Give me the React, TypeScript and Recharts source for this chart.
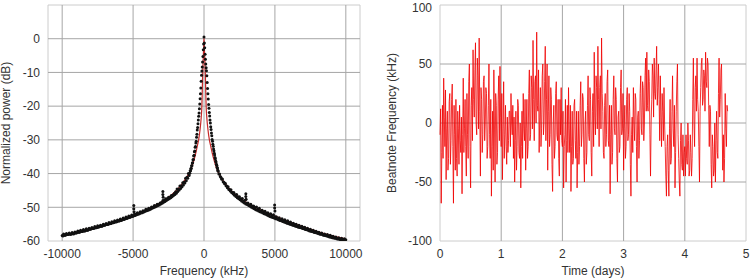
import React from 'react';
import {
  ComposedChart,
  LineChart,
  Line,
  Scatter,
  XAxis,
  YAxis,
  ReferenceLine,
  ReferenceArea,
} from 'recharts';

const FONT = '"Liberation Sans", Arial, Helvetica, sans-serif';
const TEXT = '#333333';
const GRID = '#a6a6a6';
const FRAME = '#cccccc';

// ---------- Left chart: spectrum ----------
const specFreqTicks = [-10000, -5000, 0, 5000, 10000];
const specDbTicks = [10, 0, -10, -20, -30, -40, -50, -60];

// measured dots, left tail: -10000 .. -1100 kHz, 100 kHz spacing
const leftTailStart = -10000;
const tailStep = 100;
const leftTailDb = [
  -58.4, -57.9, -58.3, -57.8, -58.1, -57.6, -58.0, -57.5, -57.9, -57.3,
  -57.6, -57.0, -57.4, -56.8, -57.2, -56.6, -57.0, -56.4, -56.8, -56.2,
  -56.5, -56.0, -56.3, -55.7, -56.1, -55.5, -55.8, -55.3, -55.6, -55.0,
  -55.3, -54.8, -55.1, -54.5, -54.8, -54.3, -54.6, -54.0, -54.3, -53.8,
  -54.1, -53.5, -53.8, -53.2, -53.5, -52.9, -53.2, -52.6, -52.9, -52.3,
  -52.6, -52.0, -52.1, -51.6, -51.9, -51.3, -51.5, -51.0, -51.2, -50.6,
  -50.8, -50.3, -50.4, -49.9, -50.0, -49.5, -49.6, -49.1, -49.2, -48.7,
  -48.6, -48.0, -47.9, -47.5, -47.5, -47.0, -47.0, -46.5, -46.4, -45.9,
  -45.4, -44.6, -44.6, -43.7, -43.6, -42.7, -42.5, -41.4, -41.1, -40.0,
];
// measured dots between them: -9950 .. -1050 kHz
const leftMidStart = -9950;
const leftMidDb = [
  -58.5, -58.3, -58.2, -58.1, -58.0, -58.0, -57.9, -57.8, -57.7, -57.6,
  -57.5, -57.4, -57.3, -57.2, -57.1, -57.0, -56.9, -56.8, -56.7, -56.5,
  -56.4, -56.3, -56.2, -56.1, -56.0, -55.9, -55.7, -55.6, -55.5, -55.3,
  -55.2, -55.1, -55.0, -54.9, -54.8, -54.6, -54.5, -54.4, -54.3, -54.1,
  -54.0, -53.9, -53.7, -53.6, -53.4, -53.3, -53.1, -53.0, -52.8, -52.7,
  -52.5, -52.4, -52.2, -52.1, -51.9, -51.7, -51.6, -51.4, -51.2, -51.0,
  -50.9, -50.7, -50.5, -50.3, -50.1, -49.9, -49.7, -49.5, -49.3, -49.0,
  -48.8, -48.5, -48.3, -48.0, -47.7, -47.5, -47.2, -46.9, -46.5, -46.2,
  -45.8, -45.3, -44.9, -44.4, -43.9, -43.4, -42.8, -42.1, -41.4, -40.6,
];

// measured dots, peak: -1000 .. 1000 kHz, 25 kHz spacing
const peakStart = -1000;
const peakStep = 25;
const peakDb = [
  -39.9, -39.2, -39.2, -38.5, -38.5, -37.7, -37.7, -36.9, -36.8, -35.9,
  -35.8, -34.8, -34.6, -33.5, -33.3, -32.2, -32.0, -30.9, -30.4, -29.2,
  -28.3, -27.1, -26.3, -25.2, -24.1, -23.0, -22.0, -20.8, -19.4, -17.8,
  -16.3, -14.6, -12.6, -10.8, -9.6, -8.4, -6.9, -5.3, -3.3, -1.6,
  0.5,
  -1.3, -2.7, -4.6, -6.1, -7.5, -8.6, -9.5, -11.0, -13.0, -14.8,
  -16.3, -17.9, -19.5, -20.6, -21.9, -22.9, -24.1, -25.0, -26.1, -26.9,
  -28.0, -28.8, -29.9, -30.4, -31.3, -31.9, -32.7, -33.2, -34.0, -34.5,
  -35.2, -35.6, -36.3, -36.6, -37.2, -37.5, -38.1, -38.4, -39.0, -39.3,
];

// measured dots, right tail: 1100 .. 10000 kHz, 100 kHz spacing
const rightTailStart = 1100;
const rightTailDb = [
  -40.1, -41.2, -41.6, -42.6, -42.9, -43.7, -43.9, -44.7, -44.8, -45.6,
  -45.6, -46.3, -46.2, -46.9, -46.9, -47.5, -47.4, -48.1, -47.9, -48.8,
  -48.7, -49.3, -49.1, -49.7, -49.6, -50.1, -49.9, -50.6, -50.3, -51.0,
  -50.9, -51.4, -51.2, -51.8, -51.6, -52.2, -51.9, -52.5, -52.2, -52.8,
  -52.8, -53.4, -53.1, -53.7, -53.4, -54.0, -53.7, -54.3, -54.0, -54.6,
  -54.4, -54.9, -54.7, -55.2, -55.0, -55.6, -55.3, -55.9, -55.6, -56.1,
  -55.9, -56.5, -56.2, -56.8, -56.5, -57.1, -56.8, -57.4, -57.1, -57.5,
  -57.4, -57.9, -57.6, -58.2, -57.9, -58.4, -58.1, -58.7, -58.3, -58.7,
  -58.6, -59.0, -58.8, -59.3, -59.0, -59.5, -59.2, -59.7, -59.3, -59.6,
];
// measured dots between them: 1050 .. 9950 kHz
const rightMidStart = 1050;
const rightMidDb = [
  -40.1, -40.9, -41.7, -42.4, -43.0, -43.6, -44.2, -44.7, -45.2, -45.6,
  -46.0, -46.4, -46.8, -47.2, -47.5, -47.8, -48.1, -48.4, -48.7, -49.0,
  -49.2, -49.5, -49.7, -50.0, -50.2, -50.4, -50.7, -50.9, -51.1, -51.3,
  -51.5, -51.7, -51.9, -52.1, -52.3, -52.5, -52.7, -52.9, -53.0, -53.2,
  -53.4, -53.5, -53.7, -53.9, -54.0, -54.2, -54.4, -54.5, -54.7, -54.8,
  -55.0, -55.1, -55.3, -55.4, -55.6, -55.7, -55.9, -56.0, -56.1, -56.3,
  -56.4, -56.6, -56.7, -56.8, -57.0, -57.1, -57.2, -57.4, -57.5, -57.6,
  -57.8, -57.9, -58.0, -58.1, -58.3, -58.4, -58.5, -58.6, -58.8, -58.9,
  -59.0, -59.1, -59.2, -59.3, -59.4, -59.5, -59.6, -59.7, -59.8, -59.9,
];

// sidebands (spurs)
const spurFreq = [-4950, -4950, -4930, -2900, -2900, -2880, 2950, 2950, 2970, 4980, 4980, 5000];
const spurDb = [-49.5, -50.4, -51.3, -45.3, -46.2, -47.0, -46.0, -46.8, -47.6, -49.3, -50.2, -51.1];

// fitted curve
const fitFreq = [
  -10000, -9000, -8000, -7000, -6000, -5000, -4000, -3000, -2500, -2000,
  -1500, -1200, -1000, -800, -600, -480, -380, -280, -200, -150,
  -120, -90, -45, -15, 0, 15, 45, 90, 120, 150,
  200, 280, 380, 480, 600, 800, 1000, 1200, 1500, 2000,
  2500, 3000, 4000, 5000, 6000, 7000, 8000, 9000, 10000,
];
const fitDb = [
  -58.2, -57.4, -56.4, -55.2, -54.0, -52.6, -50.7, -48.4, -47.0, -45.2,
  -42.8, -40.9, -39.5, -37.3, -34.3, -32.0, -30.0, -27.0, -23.5, -20.0,
  -15.0, -10.0, -5.0, -1.5, 0, -1.5, -5.0, -10.0, -15.0, -20.0,
  -23.5, -27.0, -30.0, -32.0, -34.3, -37.3, -39.6, -41.1, -43.0, -45.4,
  -47.2, -48.6, -50.8, -52.6, -54.3, -55.8, -57.2, -58.4, -59.4,
];

// ---------- Right chart: beatnote vs time ----------
const beatStartDay = 0;
const beatStepDay = 0.01;
const beatKHz = [
  -10, 12, -68, -25, 15, -30, 38, 5, -20, 28, -48, -5, 10, -40, -30, 18, 25, -35, -15, 20,
  33, -20, -68, 15, -10, -40, 20, -30, -45, 10, -5, -35, 15, -15, -25, 5, -60, -10, 38, -25,
  -5, 20, -20, -45, 25, -10, -30, 35, 50, -20, -55, 15, 30, -15, 62, 20, 5, 45, 68, 0,
  -10, 55, 40, -5, 72, 10, -45, 30, 20, -25, -10, 35, 40, -15, 0, 30, 25, -30, -20, 15,
  50, -10, -30, 20, -62, -20, 10, -40, 45, 0, -50, 25, 15, -35, -25, 20, 40, -15, 48, 5,
  -20, 25, -48, -5, 35, -30, -10, 15, -20, -35, 5, -25, -15, 10, 10, -20, 25, 0, -10, 15,
  -30, 5, -50, -15, 10, -40, -20, 20, 15, -25, -30, 0, -55, -20, 10, -30, 25, -5, -15, 20,
  -40, -5, 20, -30, -20, 25, 45, -15, -10, 40, 30, -5, 70, 20, -15, 35, 40, 0, 77, 15,
  10, 45, -25, 5, 30, -20, -5, 40, 50, -10, 0, 35, 65, -15, 20, 50, -40, 10, 40, -20,
  -10, 30, 20, -35, -58, 0, 15, -30, -20, 25, 35, -10, -15, 20, -30, -45, 20, -10, 30, -15,
  -20, 10, -55, -20, -10, 20, -50, -15, 15, -25, 30, -5, -25, 15, -58, -20, 10, -35, -30, 15,
  20, -15, -30, 10, -55, -25, 10, -35, -20, 15, 35, -20, -10, 25, 20, -30, -50, 0, 10, -35,
  -25, 15, 40, -10, -15, 30, 20, -25, -45, 10, 25, -20, 60, 5, -10, 40, 30, -5, 65, 20,
  -20, 30, 40, -5, 72, 25, 10, -25, -30, 15, 25, -20, -10, 35, 45, -15, -20, 15, -60, -10,
  15, -35, -25, 20, 40, -5, -10, 30, 20, -30, -50, 5, 10, -25, -20, 30, 45, -10, -5, 25,
  -40, -5, 15, -30, -20, 20, 30, -15, -10, 25, 10, -35, -62, -10, 5, -25, 30, 0, -15, 25,
  20, -20, -50, 5, 10, -30, -15, 25, 40, -5, -10, 35, 30, -15, 0, 40, 55, 10, 60, 15,
  10, 45, 35, -10, -45, 0, 20, 50, 40, 5, 55, 25, 20, 45, 65, 15, 30, 50, 20, -15,
  40, 5, -20, 25, 10, -15, 30, 0, -20, -45, -62, -20, -10, -40, -62, -5, 20, -35, -30, 10,
  40, -5, -20, 15, -55, -25, 10, 35, 50, -10, -30, -50, -62, -15, 0, -35, -40, -10, -45, -25,
  -20, -45, -10, -30, -35, 0, -15, -45, -40, -10, -25, -45, -30, 20, 55, 0, -20, 30, 40, 10,
  55, 20, 10, -20, -50, 10, 30, 50, 55, 15, 20, 45, 40, 10, 60, 35, 30, 55, 50, 15,
  -20, 15, 10, -35, -55, -10, -20, -45, -40, 0, -50, -15, 10, -25, -30, 25, 55, 5, 20, 45,
  50, 0, -40, -10, -50, -30, 25, -5, -20, 15, 10,
];
const timeTicks = [0, 1, 2, 3, 4, 5];
const beatTicks = [-100, -50, 0, 50, 100];

// ---------- build tables ----------
const dots = [
  ...leftTailDb.map((db, i) => ({ f: leftTailStart + i * tailStep, db })),
  ...leftMidDb.map((db, i) => ({ f: leftMidStart + i * tailStep, db })),
  ...peakDb.map((db, i) => ({ f: peakStart + i * peakStep, db })),
  ...rightTailDb.map((db, i) => ({ f: rightTailStart + i * tailStep, db })),
  ...rightMidDb.map((db, i) => ({ f: rightMidStart + i * tailStep, db })),
  ...spurDb.map((db, i) => ({ f: spurFreq[i], db })),
];
const fit = fitFreq.map((f, i) => ({ f, db: fitDb[i] }));
const beat = beatKHz.map((v, i) => ({ t: +(beatStartDay + i * beatStepDay).toFixed(2), v }));

const tickStyle = { fontSize: 12, fill: TEXT, fontFamily: FONT };

const Dot = (props: any) => <circle cx={props.cx} cy={props.cy} r={1.5} fill="#111" />;

export default function App() {
  return (
    <div style={{ position: 'absolute', left: 0, top: 0, width: 750, height: 279, background: '#fff', fontFamily: FONT }}>
      <div style={{ position: 'absolute', left: 0, top: 0 }}>
        <ComposedChart width={375} height={279} margin={{ top: 5, right: 15, bottom: 0, left: 0 }}>
          <XAxis
            type="number"
            dataKey="f"
            domain={[-11000, 11000]}
            ticks={specFreqTicks}
            allowDataOverflow
            height={38}
            tickLine={false}
            axisLine={false}
            tick={tickStyle}
          />
          <YAxis
            type="number"
            dataKey="db"
            domain={[-60, 10]}
            ticks={specDbTicks}
            allowDataOverflow
            width={48}
            tickLine={false}
            axisLine={false}
            tick={tickStyle}
          />
          <ReferenceArea x1={-11000} x2={11000} y1={-60} y2={10} fill="none" stroke={FRAME} strokeWidth={1} />
          {specDbTicks.slice(1, -1).map((y) => (
            <ReferenceLine key={'h' + y} y={y} stroke={GRID} strokeWidth={1} />
          ))}
          {specFreqTicks.map((x) => (
            <ReferenceLine key={'v' + x} x={x} stroke={GRID} strokeWidth={1} />
          ))}
          <Scatter data={dots} dataKey="db" shape={Dot} isAnimationActive={false} />
          <Line data={fit} dataKey="db" type="monotone" stroke="#c62828" strokeWidth={1.2} dot={false} isAnimationActive={false} />
        </ComposedChart>
      </div>
      <div style={{ position: 'absolute', left: 375, top: 0 }}>
        <LineChart width={375} height={279} data={beat} margin={{ top: 5, right: 4, bottom: 0, left: 0 }}>
          <XAxis
            type="number"
            dataKey="t"
            domain={[0, 5]}
            ticks={timeTicks}
            height={38}
            tickLine={false}
            axisLine={false}
            tick={tickStyle}
          />
          <YAxis
            type="number"
            domain={[-100, 100]}
            ticks={beatTicks}
            width={65}
            tickLine={false}
            axisLine={false}
            tick={tickStyle}
          />
          <ReferenceArea x1={0} x2={5} y1={-100} y2={100} fill="none" stroke={FRAME} strokeWidth={1} />
          {beatTicks.slice(1, -1).map((y) => (
            <ReferenceLine key={'h' + y} y={y} stroke={GRID} strokeWidth={1} />
          ))}
          {timeTicks.slice(1, -1).map((x) => (
            <ReferenceLine key={'v' + x} x={x} stroke={GRID} strokeWidth={1} />
          ))}
          <Line dataKey="v" type="linear" stroke="#f00000" strokeWidth={0.8} dot={false} isAnimationActive={false} />
        </LineChart>
      </div>
      <svg width={750} height={279} style={{ position: 'absolute', left: 0, top: 0, pointerEvents: 'none' }}>
        <g fontFamily={FONT} fontSize={12} fill={TEXT} textAnchor="middle">
          <text x={6} y={123} transform="rotate(-90 6 123)" dominantBaseline="central">Normalized power (dB)</text>
          <text x={204} y={271} dominantBaseline="central">Frequency (kHz)</text>
          <text x={392} y={123} transform="rotate(-90 392 123)" dominantBaseline="central">Beatnote Frequency (kHz)</text>
          <text x={593} y={271} dominantBaseline="central">Time (days)</text>
        </g>
      </svg>
    </div>
  );
}
